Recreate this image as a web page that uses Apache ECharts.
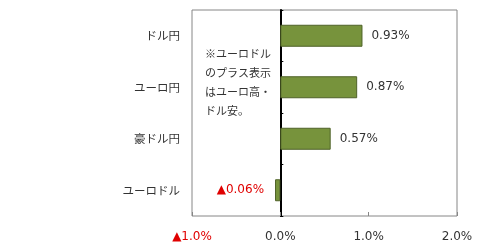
<!DOCTYPE html>
<html><head><meta charset="utf-8">
<script src="https://cdn.jsdelivr.net/npm/echarts@6/dist/echarts.min.js"></script>
<style>html,body{margin:0;padding:0;background:#fff}#c{width:500px;height:250px}</style>
</head><body><div id="c"></div>
<script>
const categories = ['ドル円', 'ユーロ円', '豪ドル円', 'ユーロドル'];
const values = [0.93, 0.87, 0.57, -0.06];
const xTicks = [-1, 0, 1, 2];
const noteLines = ['※ユーロドル', 'のプラス表示', 'はユーロ高・', 'ドル安。'];

const FONT = '"DejaVu Sans", "Noto Sans CJK JP", sans-serif';
const JFONT = '"Noto Sans CJK JP", sans-serif';
const fmtPct = (v, d) => (v < 0 ? '▲' : '') + Math.abs(v).toFixed(d) + '%';

const chart = echarts.init(document.getElementById('c'), null, {renderer: 'canvas'});
chart.setOption({
  animation: false,
  textStyle: {fontFamily: FONT},
  grid: {left: 192, right: 43, top: 10, bottom: 34, show: true, borderColor: '#868686', borderWidth: 1, backgroundColor: 'transparent'},
  xAxis: {
    type: 'value', min: xTicks[0], max: xTicks[xTicks.length - 1], interval: 1,
    axisLine: {show: false},
    axisTick: {show: true, inside: true, length: 4, lineStyle: {color: '#868686'}},
    splitLine: {show: false},
    axisLabel: {
      margin: 15, fontSize: 12, fontFamily: FONT,
      formatter: v => v < 0 ? '{neg|' + fmtPct(v, 1) + '}' : fmtPct(v, 1),
      color: '#333',
      rich: {neg: {color: '#e00000', fontSize: 12, fontFamily: FONT}}
    }
  },
  yAxis: [{
    type: 'category', data: categories, inverse: true,
    axisLine: {show: false, onZero: false},
    axisTick: {show: false},
    axisLabel: {margin: 12, fontSize: 11.5, color: '#333', fontFamily: JFONT}
  }, {
    type: 'category', data: categories, inverse: true, position: 'left',
    axisLine: {show: true, onZero: true, lineStyle: {color: '#000', width: 2}},
    axisTick: {show: true, inside: true, length: 3, lineStyle: {color: '#000', width: 1}},
    axisLabel: {show: false}
  }],
  graphic: [{
    type: 'text', left: 205, top: 44,
    style: {text: noteLines.join('\n'), font: '11px ' + JFONT, fill: '#333', lineHeight: 19}
  }],
  series: [{
    type: 'bar', data: values.map(v => v < 0 ? {value: v, label: {position: 'left', distance: 11, color: '#e00000'}} : v),
    barWidth: 22,
    itemStyle: {color: '#77933C', borderColor: '#4F6228', borderWidth: 1},
    label: {
      show: true, fontSize: 12, fontFamily: FONT,
      position: 'right', distance: 9, color: '#333',
      formatter: p => fmtPct(p.value, 2)
    }
  }]
});
</script></body></html>
